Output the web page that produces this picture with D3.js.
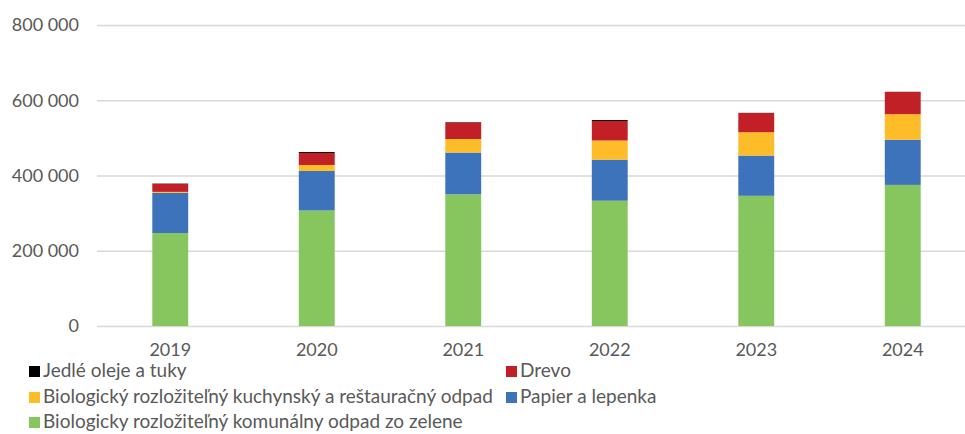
<!DOCTYPE html>
<html>
<head>
<meta charset="utf-8">
<script src="https://cdn.jsdelivr.net/npm/d3@7"></script>
<style>
  body { margin: 0; background: #fff; overflow: hidden; }
  svg { display: block; font-family: Lato, "Open Sans", sans-serif; }
</style>
</head>
<body>
<div id="chart"></div>
<script>
const years = ["2019", "2020", "2021", "2022", "2023", "2024"];
const zelen = [247000, 307000, 350000, 333000, 346000, 375000];
const papier = [107000, 105000, 111000, 109000, 107000, 120000];
const kuchynsky = [2500, 16000, 36000, 51000, 62000, 68000];
const drevo = [21000, 32000, 44000, 52000, 51000, 59000];
const oleje = [1000, 2500, 1000, 2500, 500, 500];
const yTicks = [0, 200000, 400000, 600000, 800000];

const series = [
    { key: "zelen", name: "Biologicky rozložiteľný komunálny odpad zo zelene", values: zelen, color: "#87c65f" },
    { key: "papier", name: "Papier a lepenka", values: papier, color: "#3c73bb" },
    { key: "kuchynsky", name: "Biologický rozložiteľný kuchynský a reštauračný odpad", values: kuchynsky, color: "#febd28" },
    { key: "drevo", name: "Drevo", values: drevo, color: "#c22027" },
    { key: "oleje", name: "Jedlé oleje a tuky", values: oleje, color: "#000000" }
];

const rows = years.map((y, i) => {
    const r = { year: y };
    series.forEach(s => r[s.key] = s.values[i]);
    return r;
});

const stacked = d3.stack().keys(series.map(s => s.key))(rows);

const svg = d3.select("#chart")
    .append("svg")
    .attr("width", 965)
    .attr("height", 434);

const x = d3.scaleBand()
    .domain(years)
    .range([97, 976])
    .paddingInner(0.755)
    .paddingOuter(0.3775);

const y = d3.scaleLinear()
    .domain([0, 800000])
    .range([326, 25]);

const fmt = d => d3.format(",")(d).replace(/,/g, " ");

// gridlines + y labels
const yAxis = svg.append("g")
    .attr("transform", "translate(97,0)")
    .call(d3.axisLeft(y).tickValues(yTicks).tickSize(-880).tickFormat(fmt).tickPadding(18));
yAxis.select(".domain").remove();
yAxis.selectAll("line").attr("stroke", "#d9d9d9").attr("stroke-width", 1.5);
yAxis.selectAll("text")
    .attr("fill", "#595959")
    .style("font-size", "18px")
    .style("font-family", "Lato, sans-serif");

// bars
svg.append("g").selectAll("g")
    .data(stacked)
    .enter()
    .append("g")
    .attr("fill", (d, i) => series[i].color)
    .selectAll("rect")
    .data(d => d)
    .enter()
    .append("rect")
    .attr("x", d => x(d.data.year))
    .attr("y", d => y(d[1]))
    .attr("width", x.bandwidth())
    .attr("height", d => y(d[0]) - y(d[1]));

// x labels
const xAxis = svg.append("g")
    .attr("transform", "translate(0,326)")
    .call(d3.axisBottom(x).tickSize(0).tickPadding(17));
xAxis.select(".domain").remove();
xAxis.selectAll("text")
    .attr("fill", "#595959")
    .style("font-size", "18px")
    .style("font-family", "Lato, sans-serif");

// legend, two columns
const legendItems = [
    { s: series[4], col: 0, row: 0 },
    { s: series[3], col: 1, row: 0 },
    { s: series[2], col: 0, row: 1 },
    { s: series[1], col: 1, row: 1 },
    { s: series[0], col: 0, row: 2 }
];
const colX = [29, 506];
const rowY = [371, 397, 422];

const legend = svg.append("g");
legend.selectAll("rect")
    .data(legendItems)
    .enter()
    .append("rect")
    .attr("x", d => colX[d.col])
    .attr("y", d => rowY[d.row] - 5)
    .attr("width", 11)
    .attr("height", 11)
    .attr("fill", d => d.s.color);

legend.selectAll("text")
    .data(legendItems)
    .enter()
    .append("text")
    .attr("x", d => colX[d.col] + 14)
    .attr("y", d => rowY[d.row] + 6)
    .attr("fill", "#595959")
    .style("font-size", "19px")
    .text(d => d.s.name);
</script>
</body>
</html>
